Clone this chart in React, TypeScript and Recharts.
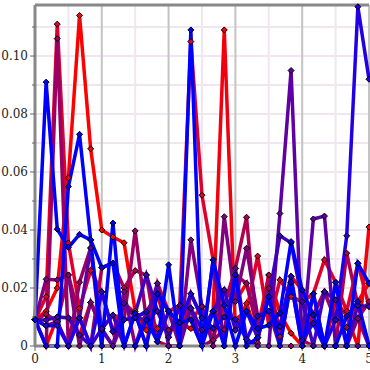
import React from "react";
import { CartesianGrid, Line, LineChart, XAxis, YAxis } from "recharts";

const XS = [
  0, 0.1667, 0.3333, 0.5, 0.6667, 0.8333, 1, 1.1667, 1.3333, 1.5, 1.6667, 1.8333, 2, 2.1667, 2.3333, 2.5,
  2.6667, 2.8333, 3, 3.1667, 3.3333, 3.5, 3.6667, 3.8333, 4, 4.1667, 4.3333, 4.5, 4.6667, 4.8333, 5,
];

const S1 = [0.009, 0.012, 0.02, 0.058, 0.114, 0.068, 0.04, 0.0376, 0.0356, 0.012, 0.0055, 0.018, 0.003, 0.014, 0.009, 0.0136, 0.002, 0.0193, 0.0153, 0.0216, 0.006, 0.0245, 0.0113, 0.0044, 0.0, 0.0107, 0.0187, 0.009, 0.0064, 0.0153, 0.0216];
const S2 = [0.009, 0.0, 0.01, 0.0097, 0.0038, 0.015, 0.006, 0.0107, 0.009, 0.0098, 0.0118, 0.006, 0.0055, 0.008, 0.006, 0.0055, 0.012, 0.109, 0.0055, 0.0147, 0.0029, 0.017, 0.0067, 0.024, 0.0193, 0.0078, 0.0, 0.0159, 0.0103, 0.0, 0.041];
const S3 = [0.009, 0.017, 0.111, 0.0355, 0.013, 0.026, 0.0187, 0.005, 0.0148, 0.0113, 0.0, 0.0216, 0.012, 0.014, 0.105, 0.052, 0.0297, 0.01, 0.0092, 0.012, 0.031, 0.0072, 0.0228, 0.017, 0.0153, 0.018, 0.0297, 0.022, 0.012, 0.0285, 0.0136];
const S4 = [0.009, 0.011, 0.0084, 0.0245, 0.0097, 0.0, 0.027, 0.0286, 0.02, 0.026, 0.0245, 0.0015, 0.0, 0.0, 0.018, 0.0097, 0.006, 0.014, 0.0268, 0.0444, 0.001, 0.0245, 0.0032, 0.022, 0.002, 0.0, 0.0, 0.0, 0.032, 0.014, 0.0];
const S5 = [0.009, 0.0, 0.106, 0.0, 0.022, 0.0338, 0.0, 0.0, 0.009, 0.0397, 0.009, 0.012, 0.0055, 0.008, 0.009, 0.0, 0.002, 0.0057, 0.0245, 0.0216, 0.006, 0.0199, 0.0, 0.0, 0.0, 0.0107, 0.0187, 0.009, 0.0064, 0.0095, 0.0153];
const S6 = [0.009, 0.023, 0.0228, 0.0245, 0.0, 0.015, 0.006, 0.0, 0.0187, 0.0, 0.0118, 0.018, 0.012, 0.0, 0.0366, 0.0136, 0.0, 0.0446, 0.0153, 0.0337, 0.0103, 0.012, 0.0, 0.022, 0.0, 0.018, 0.0, 0.0, 0.0, 0.0095, 0.0];
const S7 = [0.009, 0.007, 0.0084, 0.0, 0.0097, 0.0338, 0.0055, 0.0, 0.0148, 0.0098, 0.009, 0.0216, 0.0, 0.0, 0.013, 0.0, 0.0297, 0.0, 0.0268, 0.0023, 0.0, 0.0, 0.0457, 0.095, 0.0, 0.0438, 0.0448, 0.0, 0.0, 0.0, 0.0];
const S8 = [0.009, 0.009, 0.01, 0.0097, 0.0038, 0.0, 0.006, 0.0107, 0.0, 0.0113, 0.0245, 0.012, 0.003, 0.014, 0.013, 0.0055, 0.012, 0.0193, 0.0055, 0.012, 0.0029, 0.017, 0.038, 0.0356, 0.0153, 0.0, 0.0187, 0.0159, 0.0, 0.014, 0.0136];
const S9 = [0.009, 0.007, 0.007, 0.0, 0.0097, 0.0, 0.0187, 0.005, 0.009, 0.0098, 0.0118, 0.0015, 0.012, 0.008, 0.018, 0.0097, 0.006, 0.01, 0.0092, 0.0023, 0.0103, 0.012, 0.0067, 0.024, 0.002, 0.0078, 0.0, 0.009, 0.038, 0.117, 0.092];
const S10 = [0.009, 0.091, 0.0403, 0.034, 0.0385, 0.0366, 0.027, 0.0286, 0.0, 0.0113, 0.0, 0.018, 0.012, 0.008, 0.009, 0.0, 0.0297, 0.014, 0.0, 0.012, 0.006, 0.0072, 0.0113, 0.036, 0.0193, 0.0107, 0.0, 0.0, 0.0103, 0.0153, 0.0];
const S11 = [0.009, 0.0, 0.0, 0.055, 0.073, 0.0366, 0.0, 0.0424, 0.0, 0.0, 0.009, 0.0015, 0.028, 0.0, 0.109, 0.0, 0.012, 0.0, 0.0245, 0.0, 0.0029, 0.017, 0.0, 0.022, 0.0, 0.018, 0.0, 0.022, 0.0, 0.0285, 0.0216];

const SERIES = [
  { key: "s1", values: S1, color: "#ff0000" },
  { key: "s2", values: S2, color: "#f2000e" },
  { key: "s3", values: S3, color: "#e0002c" },
  { key: "s4", values: S4, color: "#b00050" },
  { key: "s5", values: S5, color: "#990066" },
  { key: "s6", values: S6, color: "#800080" },
  { key: "s7", values: S7, color: "#5e00a4" },
  { key: "s8", values: S8, color: "#4000c0" },
  { key: "s9", values: S9, color: "#2200e6" },
  { key: "s10", values: S10, color: "#0000ff" },
  { key: "s11", values: S11, color: "#0000ff" },
];

const X_TICKS = [0, 1, 2, 3, 4, 5];
const X_MINOR = [0.5, 1.5, 2.5, 3.5, 4.5];
const Y_TICKS = [0, 0.01, 0.02, 0.03, 0.04, 0.05, 0.06, 0.07, 0.08, 0.09, 0.1, 0.11];
const Y_MAJOR = [0, 0.02, 0.04, 0.06, 0.08, 0.1];
const Y_LABELS: Record<number, string> = { 0: "0", 0.02: "0.02", 0.04: "0.04", 0.06: "0.06", 0.08: "0.08", 0.1: "0.10" };
const Y_MAX = 0.1176;

const data = XS.map((x, i) => {
  const row: Record<string, number> = { x };
  SERIES.forEach((s) => (row[s.key] = s.values[i]));
  return row;
});

const FONT = "DejaVu Serif";

function YTick({ x, y, payload }: any) {
  const v = payload.value as number;
  const label = Y_LABELS[v];
  return (
    <g>
      <line x1={x + (label ? 2 : 4)} x2={x + 7} y1={y} y2={y} stroke="#666" strokeWidth={1} />
      {label && (
        <text x={x} y={y} dy="0.35em" textAnchor="end" fontFamily={FONT} fontSize={12} fill="#222">
          {label}
        </text>
      )}
    </g>
  );
}

function diamond(color: string) {
  return (props: any) => {
    const { cx, cy, index } = props;
    if (cx == null || cy == null) return <g key={index} />;
    return (
      <path
        key={index}
        d={`M${cx},${cy - 3}L${cx + 3},${cy}L${cx},${cy + 3}L${cx - 3},${cy}Z`}
        fill={color}
        stroke="#000"
        strokeWidth={1}
      />
    );
  };
}

export default function App() {
  return (
    <div style={{ position: "absolute", left: 0, top: 0, background: "#fff" }}>
      <LineChart width={370} height={370} data={data} margin={{ top: 4, right: 1, left: 0, bottom: 0 }}>
        <CartesianGrid xAxisId="minor" yAxisId={0} stroke="#efe6ef" strokeWidth={2} />
        <CartesianGrid xAxisId={0} yAxisId="major" stroke="#c4c4c4" strokeWidth={2} />
        <XAxis
          dataKey="x"
          type="number"
          domain={[0, 5]}
          ticks={X_TICKS}
          interval={0}
          tickSize={5}
          tickMargin={3}
          height={24}
          axisLine={{ stroke: "#888", strokeWidth: 3 }}
          tickLine={{ stroke: "#666" }}
          tick={{ fontFamily: FONT, fontSize: 12, fill: "#222" }}
        />
        <XAxis xAxisId="minor" dataKey="x" type="number" domain={[0, 5]} ticks={[0, ...X_MINOR, 5]} hide />
        <XAxis
          xAxisId="top"
          orientation="top"
          dataKey="x"
          type="number"
          domain={[0, 5]}
          height={1}
          tick={false}
          tickLine={false}
          axisLine={{ stroke: "#888", strokeWidth: 3 }}
        />
        <YAxis
          type="number"
          domain={[0, Y_MAX]}
          ticks={Y_TICKS}
          interval={0}
          width={35}
          tickSize={5}
          tickMargin={2}
          tickLine={false}
          axisLine={{ stroke: "#888", strokeWidth: 3 }}
          tick={<YTick />}
        />
        <YAxis yAxisId="major" type="number" domain={[0, Y_MAX]} ticks={Y_MAJOR} hide />
        {SERIES.map((s) => (
          <Line
            key={s.key}
            dataKey={s.key}
            type="linear"
            stroke={s.color}
            strokeWidth={3.5}
            dot={diamond(s.color)}
            activeDot={false}
            isAnimationActive={false}
          />
        ))}
      </LineChart>
    </div>
  );
}
